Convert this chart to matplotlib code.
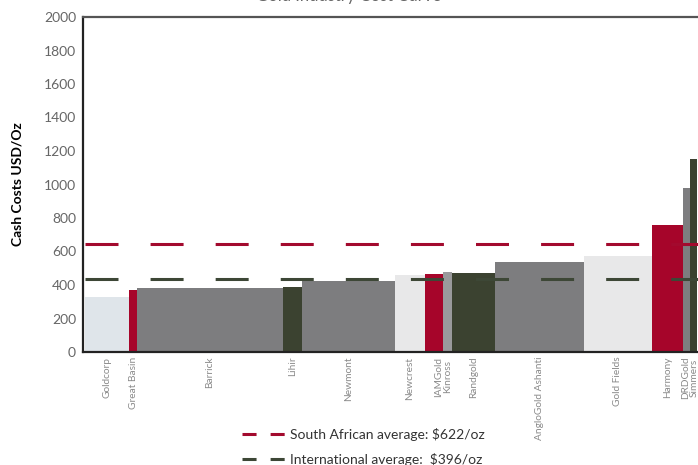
import matplotlib
matplotlib.use("Agg")
import matplotlib.pyplot as plt
from matplotlib.lines import Line2D

plt.rcParams['font.family'] = ['Lato', 'DejaVu Sans']

# producers, ordered along the cost curve
companies = ["Goldcorp", "Great Basin", "Barrick", "Lihir", "Newmont", "Newcrest",
             "IAMGold", "Kinross", "Randgold", "AngloGold Ashanti", "Gold Fields",
             "Harmony", "DRDGold", "Simmers"]
production = [4.4, 0.8, 14.6, 1.9, 9.3, 3.0, 1.8, 0.9, 4.3, 8.9, 6.8, 3.1, 0.7, 0.7]
cash_cost = [329, 371, 383, 389, 425, 461, 467, 479, 473, 539, 575, 760, 982, 1150]
group = ["light_blue", "sa", "grey", "dark", "grey", "light", "sa", "mid",
         "dark", "grey", "light", "sa", "grey", "dark"]

sa_avg = 647
intl_avg = 437

colors = {"sa": "#a6052a", "grey": "#7d7d7f", "dark": "#3b4230",
          "light": "#e8e8e9", "light_blue": "#dfe5ea", "mid": "#9a9a9c"}

fig = plt.figure(figsize=(6.98, 4.65), dpi=100)
ax = fig.add_axes([83 / 698, 113 / 465, 615 / 698, 335 / 465])

start = 0.2
lefts = []
x = start
for w in production:
    lefts.append(x)
    x += w

ax.bar(lefts, cash_cost, width=production, align='edge',
       color=[colors[g] for g in group], linewidth=0, zorder=2)

ax.hlines(sa_avg, start, 61.5, color="#a30a2e", lw=2.2, zorder=3,
          linestyles=(0, (10.8, 10.5)))
ax.hlines(intl_avg, start, 61.5, color="#3d4736", lw=2.2, zorder=3,
          linestyles=(0, (10.8, 10.5)))

ax.set_xlim(0, 61.5)
ax.set_ylim(0, 2000)
ax.set_yticks(range(0, 2001, 200))
ax.tick_params(axis='y', length=0, pad=5, labelsize=10, labelcolor="#666666")
ax.set_xticks([])

for s in ["left", "bottom"]:
    ax.spines[s].set_linewidth(1.6)
    ax.spines[s].set_color("#222222")
ax.spines["top"].set_linewidth(1.6)
ax.spines["top"].set_color("#555555")
ax.spines["right"].set_visible(False)

# company names below the bars
tick_text = {"IAMGold": "IAMGold\nKinross", "DRDGold": "DRDGold\nSimmers"}
skip = {"Kinross", "Simmers"}
for name, l, w in zip(companies, lefts, production):
    if name in skip:
        continue
    cx = l + w / 2
    if name in ("IAMGold", "DRDGold"):
        cx = l + w
    ax.text(cx, -28, tick_text.get(name, name), rotation=90, ha='center', va='top',
            fontsize=7.3, color="#8a8a8a", linespacing=0.95)

ax.set_ylabel("Cash Costs USD/Oz", fontsize=10, fontweight='bold')
ax.yaxis.set_label_coords(-0.097, 0.5)

fig.text(0.5, 1 - 1 / 465, "Gold Industry Cost Curve", ha='center', va='baseline',
         fontsize=12, color="#666666")

handles = [Line2D([], [], color="#a30a2e", lw=2.2, linestyle=(0, (4.6, 4.6))),
           Line2D([], [], color="#3d4736", lw=2.2, linestyle=(0, (4.6, 4.6)))]
labels = ["South African average: $622/oz", "International average:  $396/oz"]
fig.legend(handles, labels, loc='upper left', bbox_to_anchor=(242 / 698, 1 - 428 / 465),
           frameon=False, fontsize=10, handlelength=3.1, handletextpad=0.35,
           borderpad=0, borderaxespad=0, labelspacing=0.85, labelcolor="#333333")

fig.savefig("out.png", dpi=100)
